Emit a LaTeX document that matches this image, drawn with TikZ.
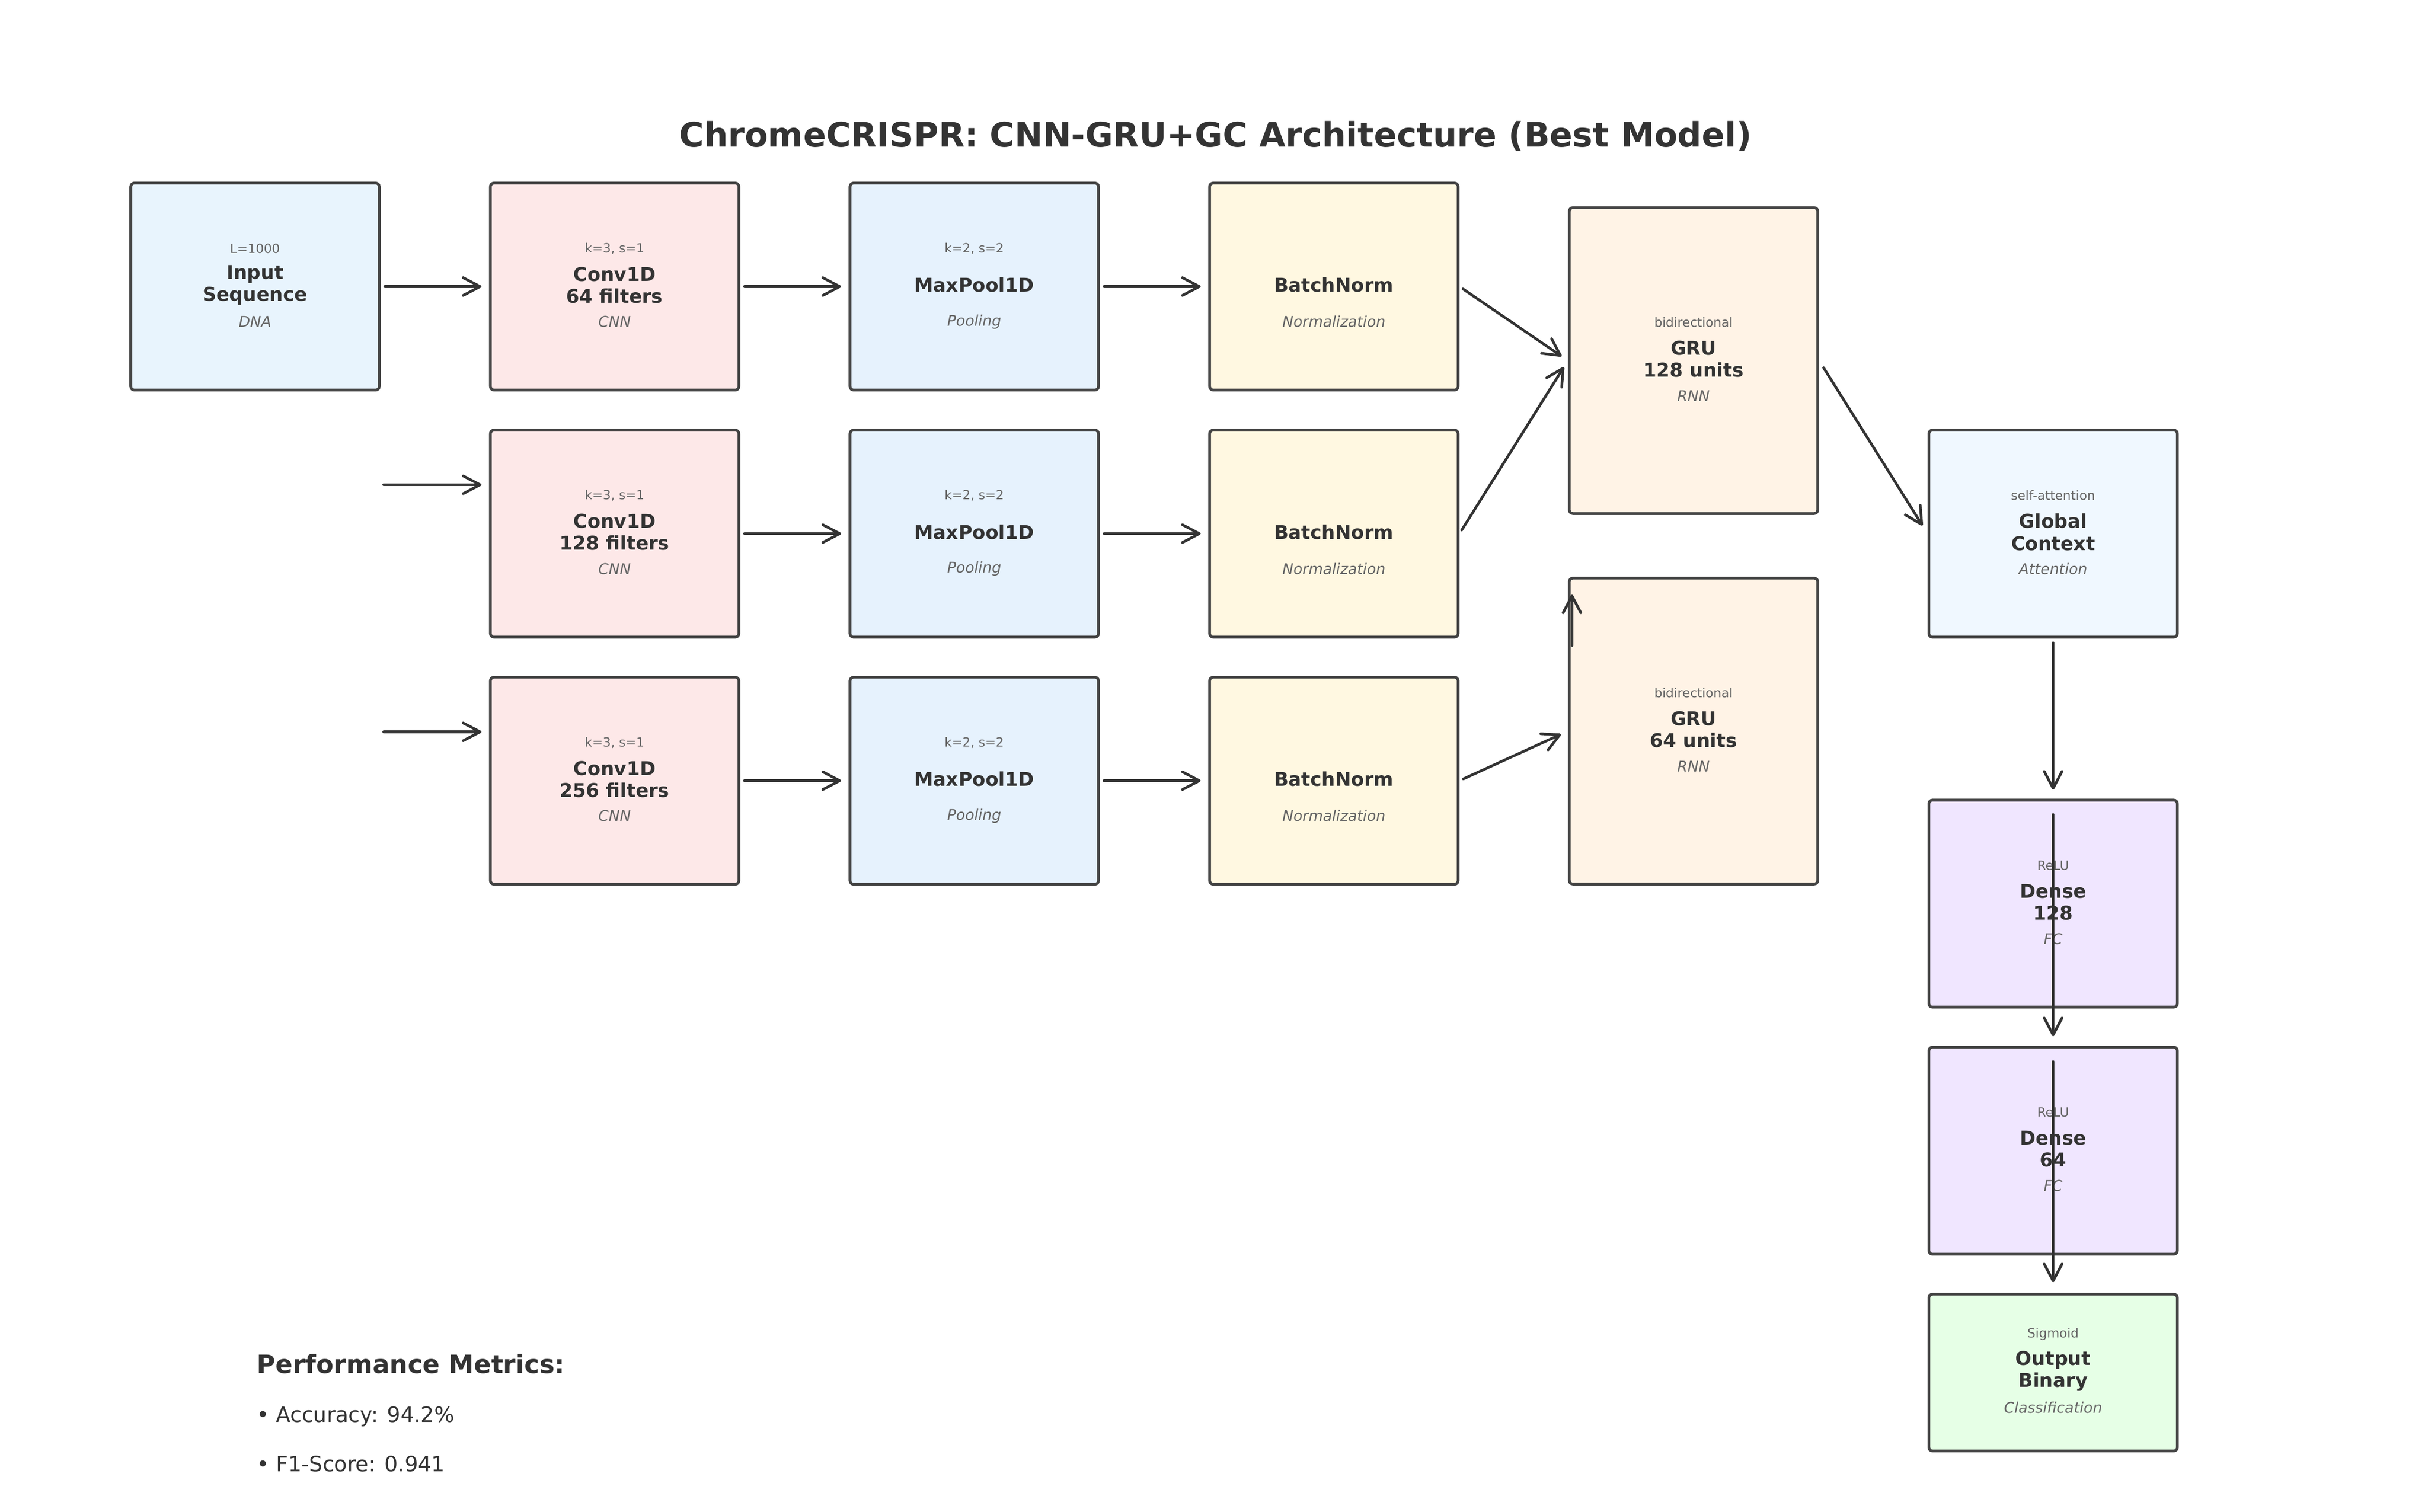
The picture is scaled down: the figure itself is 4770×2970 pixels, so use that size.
\documentclass[tikz,border=0pt]{standalone}
\usepackage{fontspec}
\setmainfont{DejaVu Sans}
\usetikzlibrary{arrows.meta,calc,positioning}

\definecolor{boxline}{HTML}{444444}
\definecolor{arrowcol}{HTML}{333333}
\definecolor{maintext}{HTML}{333333}
\definecolor{subtext}{HTML}{666666}
\definecolor{inputcol}{HTML}{E8F4FD}
\definecolor{convcol}{HTML}{FDE8E8}
\definecolor{poolcol}{HTML}{E6F2FD}
\definecolor{normcol}{HTML}{FFF8E1}
\definecolor{grucol}{HTML}{FFF3E6}
\definecolor{ctxcol}{HTML}{F0F8FF}
\definecolor{densecol}{HTML}{F0E6FF}
\definecolor{outcol}{HTML}{E6FFE6}

\tikzset{
    layer/.style={draw=boxline, line width=1.3pt, rounded corners=1.7pt,
        minimum width=117.6pt, minimum height=98pt, inner sep=0pt},
    toplbl/.style={font=\fontsize{6}{7}\selectfont, text=subtext, inner sep=0pt},
    mainlbl/.style={font=\bfseries\fontsize{9}{10.4}\selectfont, text=maintext,
        align=center, inner sep=0pt},
    sublbl/.style={font=\itshape\fontsize{7}{8}\selectfont, text=subtext, inner sep=0pt},
    flow/.style={draw=arrowcol, line width=1.25pt, line cap=round,
        -{Straight Barb[length=8pt,width=8.4pt,round]},
        shorten <=2pt, shorten >=3.6pt},
    metric/.style={font=\fontsize{10}{12}\selectfont, text=maintext, anchor=west, inner sep=0pt}
}

\begin{document}
\begin{tikzpicture}[x=0.2409pt, y=-0.2409pt]
    \pgfmathsetmacro\leftx{501}
    \pgfmathsetmacro\colsep{706.5}
    \pgfmathsetmacro\topy{563}
    \pgfmathsetmacro\rowsep{485.5}
    \pgfmathsetmacro\lblsep{72}
    \pgfmathsetmacro\lift{3}

    \fill[white] (0,0) rectangle (4770,2970);
    \useasboundingbox (0,0) rectangle (4770,2970);

    \node[font=\bfseries\fontsize{16}{19}\selectfont, text=maintext] (title) at (2388,268)
        {ChromeCRISPR: CNN-GRU+GC Architecture (Best Model)};

    % input
    \node[layer, fill=inputcol] (inp) at (\leftx,\topy) {};
    \node[toplbl] (inptop) at ($(inp)+(0,-\lblsep-\lift)$) {L=1000};
    \node[mainlbl] (inpmain) at ($(inp)+(0,-\lift)$) {Input\\Sequence};
    \node[sublbl] (inpsub) at ($(inp)+(0,\lblsep-\lift)$) {DNA};

    % three conv branches
    \foreach \r/\nm/\filt in {0/A/64, 1/B/128, 2/C/256} {
        \pgfmathsetmacro\yy{\topy + \r*\rowsep}
        \node[layer, fill=convcol] (conv\nm) at (\leftx+\colsep, \yy) {};
        \node[toplbl] (convtop\nm) at ($(conv\nm)+(0,-\lblsep-\lift)$) {k=3, s=1};
        \node[mainlbl] (convmain\nm) at ($(conv\nm)+(0,-\lift)$) {Conv1D\\\filt{} filters};
        \node[sublbl] (convsub\nm) at ($(conv\nm)+(0,\lblsep-\lift)$) {CNN};

        \node[layer, fill=poolcol] (pool\nm) at (\leftx+2*\colsep, \yy) {};
        \node[toplbl] (pooltop\nm) at ($(pool\nm)+(0,-\lblsep-\lift)$) {k=2, s=2};
        \node[mainlbl] (poolmain\nm) at ($(pool\nm)+(0,-\lift)$) {MaxPool1D};
        \node[sublbl] (poolsub\nm) at ($(pool\nm)+(0,\lblsep-\lift)$) {Pooling};

        \node[layer, fill=normcol] (norm\nm) at (\leftx+3*\colsep, \yy) {};
        \node[mainlbl] (normmain\nm) at ($(norm\nm)+(0,-\lift)$) {BatchNorm};
        \node[sublbl] (normsub\nm) at ($(norm\nm)+(0,\lblsep-\lift)$) {Normalization};

        \draw[flow] (conv\nm.east) -- (pool\nm.west);
        \draw[flow] (pool\nm.east) -- (norm\nm.west);
    }

    % recurrent part
    \node[layer, fill=grucol, minimum height=144.8pt] (gruA) at (\leftx+4*\colsep, 708.5) {};
    \node[toplbl] (grutopA) at ($(gruA)+(0,-\lblsep-\lift)$) {bidirectional};
    \node[mainlbl] (grumainA) at ($(gruA)+(0,-\lift)$) {GRU\\128 units};
    \node[sublbl] (grusubA) at ($(gruA)+(0,\lblsep-\lift)$) {RNN};

    \node[layer, fill=grucol, minimum height=144.8pt] (gruB) at (\leftx+4*\colsep, 1436.5) {};
    \node[toplbl] (grutopB) at ($(gruB)+(0,-\lblsep-\lift)$) {bidirectional};
    \node[mainlbl] (grumainB) at ($(gruB)+(0,-\lift)$) {GRU\\64 units};
    \node[sublbl] (grusubB) at ($(gruB)+(0,\lblsep-\lift)$) {RNN};

    % head
    \node[layer, fill=ctxcol] (ctx) at (\leftx+5*\colsep, \topy+\rowsep) {};
    \node[toplbl] (ctxtop) at ($(ctx)+(0,-\lblsep-\lift)$) {self-attention};
    \node[mainlbl] (ctxmain) at ($(ctx)+(0,-\lift)$) {Global\\Context};
    \node[sublbl] (ctxsub) at ($(ctx)+(0,\lblsep-\lift)$) {Attention};

    \node[layer, fill=densecol] (denseA) at (\leftx+5*\colsep, 1775.5) {};
    \node[toplbl] (densetopA) at ($(denseA)+(0,-\lblsep-\lift)$) {ReLU};
    \node[mainlbl] (densemainA) at ($(denseA)+(0,-\lift)$) {Dense\\128};
    \node[sublbl] (densesubA) at ($(denseA)+(0,\lblsep-\lift)$) {FC};

    \node[layer, fill=densecol] (denseB) at (\leftx+5*\colsep, 2261) {};
    \node[toplbl] (densetopB) at ($(denseB)+(0,-\lblsep-\lift)$) {ReLU};
    \node[mainlbl] (densemainB) at ($(denseB)+(0,-\lift)$) {Dense\\64};
    \node[sublbl] (densesubB) at ($(denseB)+(0,\lblsep-\lift)$) {FC};

    \node[layer, fill=outcol, minimum height=74.2pt] (outp) at (\leftx+5*\colsep, 2697) {};
    \node[toplbl] (outtop) at ($(outp)+(0,-\lblsep-\lift)$) {Sigmoid};
    \node[mainlbl] (outmain) at ($(outp)+(0,-\lift)$) {Output\\Binary};
    \node[sublbl] (outsub) at ($(outp)+(0,\lblsep-\lift)$) {Classification};

    % connectors
    \draw[flow] (inp.east) -- (convA.west);
    \coordinate (inBs) at ($(convB.west)+(-207,-96)$);
    \coordinate (inBe) at ($(convB.west)+(0,-96)$);
    \draw[flow, shorten <=0pt] (inBs) -- (inBe);
    \coordinate (inCs) at ($(convC.west)+(-207,-96)$);
    \coordinate (inCe) at ($(convC.west)+(0,-96)$);
    \draw[flow, shorten <=0pt] (inCs) -- (inCe);

    \draw[flow] (normA.east) -- (gruA.west);
    \draw[flow] (normB.east) -- (gruA.west);
    \draw[flow] (normC.east) -- (gruB.west);
    \coordinate (upS) at ($(gruB.north west)+(8,135)$);
    \coordinate (upE) at ($(gruB.north west)+(8,35)$);
    \draw[flow, shorten <=0pt, shorten >=0pt] (upS) -- (upE);
    \draw[flow, shorten <=4pt, shorten >=4.5pt] (gruA.east) -- (ctx.west);

    \draw[flow, shorten >=4.3pt] (ctx.south) -- (denseA.north);
    \coordinate (dAs) at ($(denseA.north)+(0,31)$);
    \draw[flow, shorten <=0pt, shorten >=4.5pt] (dAs) -- (denseB.north);
    \coordinate (dBs) at ($(denseB.north)+(0,31)$);
    \draw[flow, shorten <=0pt, shorten >=5pt] (dBs) -- (outp.north);

    % metrics
    \node[metric, font=\bfseries\fontsize{12}{14}\selectfont] (perf) at (504,2680) {Performance Metrics:};
    \node[metric] (acc) at (504,2783) {• Accuracy: 94.2\%};
    \node[metric] (fone) at (504,2876) {• F1-Score: 0.941};
\end{tikzpicture}
\end{document}
